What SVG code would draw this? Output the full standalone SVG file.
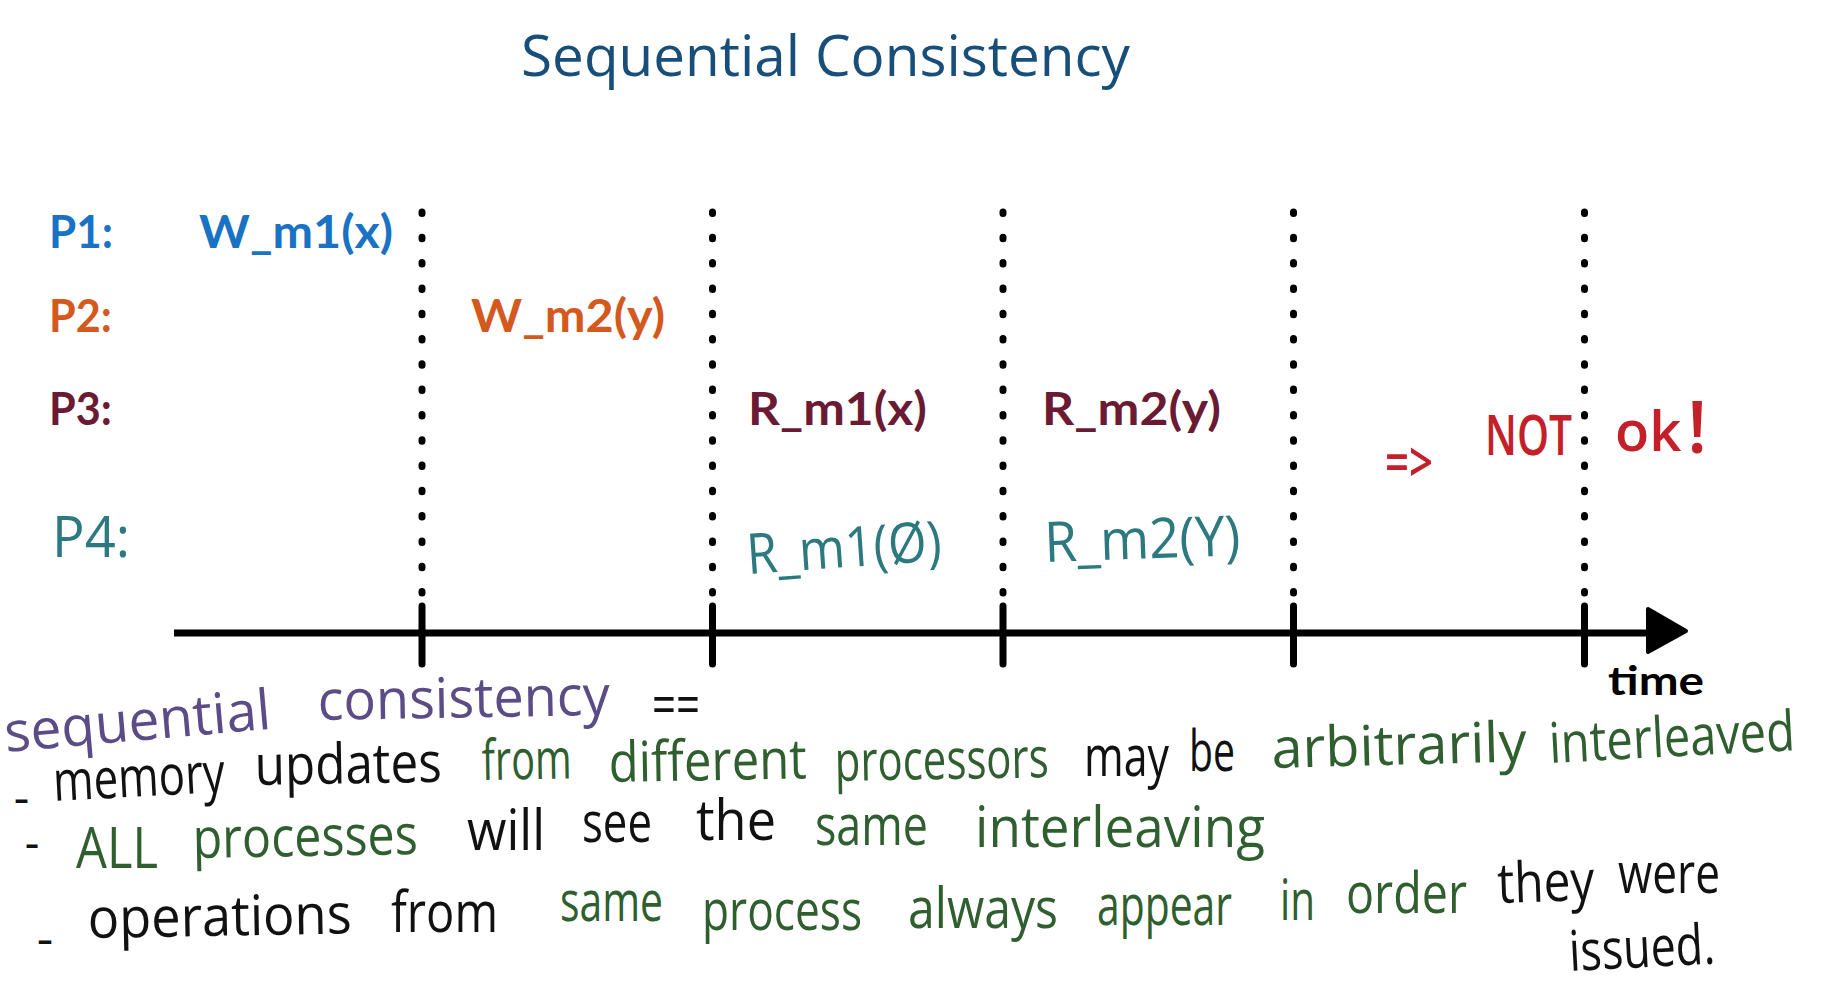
<svg xmlns="http://www.w3.org/2000/svg" width="1823" height="1006" viewBox="0 0 1823 1006">
  <style>
    .bold { font-family: Lato, "Liberation Sans", Arial, sans-serif; font-weight: 700; font-size: 45px; }
    .hw { font-family: "Open Sans", "DejaVu Sans", sans-serif; font-weight: 400; font-size: 56px; }
    .dash { font-family: "Open Sans", "DejaVu Sans", sans-serif; font-weight: 600; font-size: 36px; fill: #111111; }
    .blue { fill: #1a72c4; }
    .orange { fill: #d4591e; }
    .maroon { fill: #6a1a33; }
    .teal { fill: #2c7a80; }
    .red { fill: #c4202a; font-weight: 600; }
    .title { fill: #184f7a; }
    .purple { fill: #5b4b86; }
    .green { fill: #2f5e2f; }
    .black { fill: #111111; }
    .dots { stroke: #000; stroke-width: 7; stroke-linecap: round; stroke-dasharray: 1.5 23.8; fill: none; }
    .tick { stroke: #000; stroke-width: 7; stroke-linecap: round; }
  </style>
  <rect width="1823" height="1006" fill="#ffffff"/>

  <g id="title">
    <text class="hw title" x="521" y="76" font-size="76" textLength="609" lengthAdjust="spacingAndGlyphs">Sequential Consistency</text>
  </g>

  <g id="time-axis">
    <line x1="174" y1="633" x2="1652" y2="633" stroke="#000" stroke-width="7"/>
    <polygon points="1648,609 1686,631 1648,652" fill="#000" stroke="#000" stroke-width="4" stroke-linejoin="round"/>
    <line class="tick" x1="422" y1="606" x2="422" y2="664"/>
    <line class="tick" x1="712.5" y1="606" x2="712.5" y2="664"/>
    <line class="tick" x1="1003" y1="606" x2="1003" y2="664"/>
    <line class="tick" x1="1293.5" y1="606" x2="1293.5" y2="664"/>
    <line class="tick" x1="1584.5" y1="606" x2="1584.5" y2="664"/>
    <text x="1608" y="695" font-family="Lato, 'Liberation Sans', sans-serif" font-weight="700" font-size="40" textLength="96" lengthAdjust="spacingAndGlyphs" fill="#000">time</text>
  </g>

  <g id="separators">
    <line class="dots" x1="422" y1="212" x2="422" y2="594"/>
    <line class="dots" x1="712.5" y1="212" x2="712.5" y2="594"/>
    <line class="dots" x1="1003" y1="212" x2="1003" y2="594"/>
    <line class="dots" x1="1293.5" y1="212" x2="1293.5" y2="594"/>
    <line class="dots" x1="1584.5" y1="212" x2="1584.5" y2="594"/>
  </g>

  <g id="p1">
    <text class="bold blue" x="49" y="248" textLength="64" lengthAdjust="spacingAndGlyphs">P1:</text>
    <text class="bold blue" x="199" y="248" textLength="194" lengthAdjust="spacingAndGlyphs">W_m1(x)</text>
  </g>
  <g id="p2">
    <text class="bold orange" x="49" y="332" textLength="63" lengthAdjust="spacingAndGlyphs">P2:</text>
    <text class="bold orange" x="471" y="332" textLength="194" lengthAdjust="spacingAndGlyphs">W_m2(y)</text>
  </g>
  <g id="p3">
    <text class="bold maroon" x="49" y="425" textLength="63" lengthAdjust="spacingAndGlyphs">P3:</text>
    <text class="bold maroon" x="748" y="425" textLength="179" lengthAdjust="spacingAndGlyphs">R_m1(x)</text>
    <text class="bold maroon" x="1042" y="425" textLength="179" lengthAdjust="spacingAndGlyphs">R_m2(y)</text>
  </g>
  <g id="p4">
    <text class="hw teal" x="52" y="557" font-size="54" textLength="78" lengthAdjust="spacingAndGlyphs">P4:</text>
    <text class="hw teal" x="748" y="574" font-size="62" transform="rotate(-4 748 574)" textLength="195" lengthAdjust="spacingAndGlyphs">R_m1(Ø)</text>
    <text class="hw teal" x="1045" y="562" font-size="62" transform="rotate(-2 1045 562)" textLength="196" lengthAdjust="spacingAndGlyphs">R_m2(Y)</text>
  </g>

  <g id="verdict">
    <text class="hw red" x="1385" y="482" font-size="64" textLength="48" lengthAdjust="spacingAndGlyphs">=&gt;</text>
    <text class="hw red" x="1485" y="455" font-size="46" textLength="87" lengthAdjust="spacingAndGlyphs">NOT</text>
    <text class="hw red" x="1615" y="451" font-size="42">ok<tspan font-size="72" dx="6" dy="2">!</tspan></text>
  </g>

  <g id="notes">
    <g id="note-heading">
      <text class="hw purple" x="6" y="752" transform="rotate(-5 6 752)" textLength="267" lengthAdjust="spacingAndGlyphs">sequential</text>
      <text class="hw purple" x="318" y="720" transform="rotate(-1 318 720)" textLength="292" lengthAdjust="spacingAndGlyphs">consistency</text>
      <text class="hw black" x="652" y="724" font-size="60" textLength="48" lengthAdjust="spacingAndGlyphs">==</text>
    </g>
    <g id="note-1">
      <text class="dash" x="14" y="811" textLength="15" lengthAdjust="spacingAndGlyphs">-</text>
      <text class="hw black" x="54" y="801" transform="rotate(-3 54 801)" textLength="172" lengthAdjust="spacingAndGlyphs">memory</text>
      <text class="hw black" x="255" y="785" transform="rotate(-1 255 785)" textLength="187" lengthAdjust="spacingAndGlyphs">updates</text>
      <text class="hw green" x="482" y="780" transform="rotate(-1 482 780)" textLength="90" lengthAdjust="spacingAndGlyphs">from</text>
      <text class="hw green" x="609" y="782" transform="rotate(-1 609 782)" textLength="198" lengthAdjust="spacingAndGlyphs">different</text>
      <text class="hw green" x="835" y="781" transform="rotate(-1 835 781)" textLength="214" lengthAdjust="spacingAndGlyphs">processors</text>
      <text class="hw black" x="1084" y="776" textLength="85" lengthAdjust="spacingAndGlyphs">may</text>
      <text class="hw black" x="1189" y="771" textLength="46" lengthAdjust="spacingAndGlyphs">be</text>
      <text class="hw green" x="1272" y="768" transform="rotate(-1.5 1272 768)" textLength="255" lengthAdjust="spacingAndGlyphs">arbitrarily</text>
      <text class="hw green" x="1550" y="763" transform="rotate(-3 1550 763)" textLength="246" lengthAdjust="spacingAndGlyphs">interleaved</text>
    </g>
    <g id="note-2">
      <text class="dash" x="25" y="856" textLength="14" lengthAdjust="spacingAndGlyphs">-</text>
      <text class="hw green" x="76" y="868" textLength="82" lengthAdjust="spacingAndGlyphs">ALL</text>
      <text class="hw green" x="193" y="858" transform="rotate(-1 193 858)" textLength="225" lengthAdjust="spacingAndGlyphs">processes</text>
      <text class="hw black" x="467" y="850" textLength="78" lengthAdjust="spacingAndGlyphs">will</text>
      <text class="hw black" x="582" y="842" textLength="70" lengthAdjust="spacingAndGlyphs">see</text>
      <text class="hw black" x="696" y="840" textLength="80" lengthAdjust="spacingAndGlyphs">the</text>
      <text class="hw green" x="815" y="845" textLength="113" lengthAdjust="spacingAndGlyphs">same</text>
      <text class="hw green" x="975" y="847" textLength="290" lengthAdjust="spacingAndGlyphs">interleaving</text>
    </g>
    <g id="note-3">
      <text class="dash" x="37" y="952" textLength="16" lengthAdjust="spacingAndGlyphs">-</text>
      <text class="hw black" x="88" y="938" transform="rotate(-1 88 938)" textLength="264" lengthAdjust="spacingAndGlyphs">operations</text>
      <text class="hw black" x="391" y="932" textLength="107" lengthAdjust="spacingAndGlyphs">from</text>
      <text class="hw green" x="560" y="921" textLength="103" lengthAdjust="spacingAndGlyphs">same</text>
      <text class="hw green" x="702" y="930" textLength="160" lengthAdjust="spacingAndGlyphs">process</text>
      <text class="hw green" x="908" y="928" textLength="150" lengthAdjust="spacingAndGlyphs">always</text>
      <text class="hw green" x="1097" y="925" textLength="135" lengthAdjust="spacingAndGlyphs">appear</text>
      <text class="hw green" x="1280" y="920" textLength="35" lengthAdjust="spacingAndGlyphs">in</text>
      <text class="hw green" x="1346" y="913" textLength="121" lengthAdjust="spacingAndGlyphs">order</text>
      <text class="hw black" x="1498" y="903" transform="rotate(-2 1498 903)" textLength="97" lengthAdjust="spacingAndGlyphs">they</text>
      <text class="hw black" x="1618" y="893" textLength="102" lengthAdjust="spacingAndGlyphs">were</text>
      <text class="hw black" x="1570" y="971" transform="rotate(-3 1570 971)" textLength="146" lengthAdjust="spacingAndGlyphs">issued.</text>
    </g>
  </g>
</svg>
